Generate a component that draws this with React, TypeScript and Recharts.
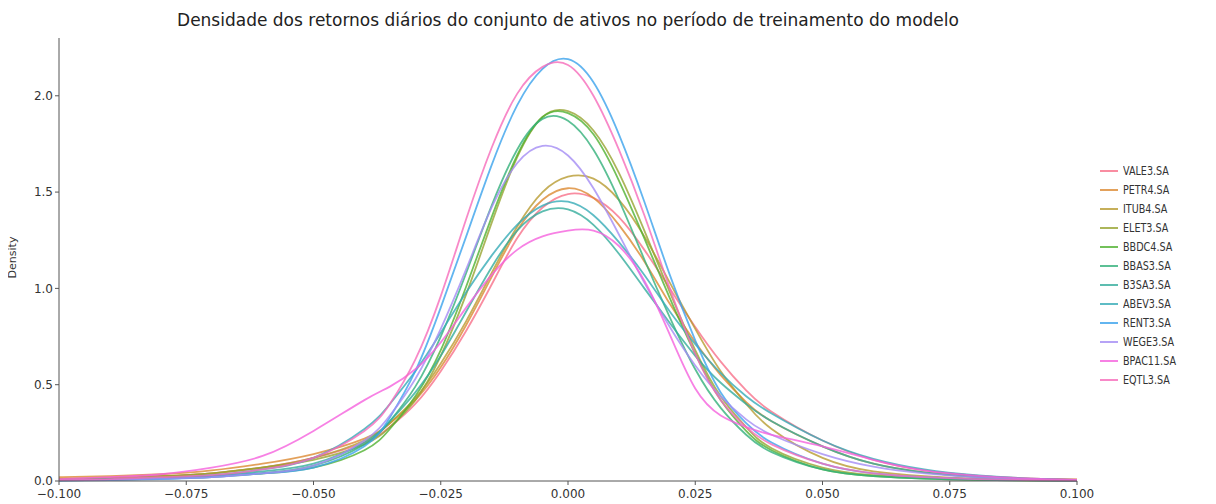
import React from 'react'
import { LineChart, Line, XAxis, YAxis } from 'recharts'

const RETURNS = [-0.1, -0.09, -0.08, -0.07, -0.06, -0.05, -0.04, -0.035, -0.03, -0.025, -0.02, -0.015, -0.01, -0.005, 0, 0.005, 0.01, 0.015, 0.02, 0.025, 0.03, 0.035, 0.04, 0.05, 0.06, 0.07, 0.08, 0.09, 0.1]

const VALE3 = [0.01, 0.015, 0.025, 0.04, 0.07, 0.12, 0.2, 0.28, 0.4, 0.57, 0.78, 1.02, 1.26, 1.42, 1.49, 1.47, 1.37, 1.2, 1.0, 0.8, 0.62, 0.47, 0.36, 0.21, 0.11, 0.055, 0.028, 0.014, 0.007]
const PETR4 = [0.02, 0.025, 0.035, 0.055, 0.09, 0.14, 0.22, 0.3, 0.42, 0.59, 0.81, 1.06, 1.3, 1.46, 1.52, 1.47, 1.33, 1.14, 0.92, 0.72, 0.55, 0.41, 0.31, 0.18, 0.09, 0.045, 0.022, 0.012, 0.008]
const ITUB4 = [0.01, 0.015, 0.025, 0.04, 0.07, 0.12, 0.21, 0.3, 0.43, 0.61, 0.83, 1.08, 1.32, 1.5, 1.58, 1.57, 1.46, 1.27, 1.03, 0.79, 0.57, 0.4, 0.27, 0.12, 0.05, 0.025, 0.012, 0.006, 0.003]
const ELET3 = [0.01, 0.015, 0.025, 0.04, 0.07, 0.11, 0.19, 0.28, 0.42, 0.65, 0.97, 1.34, 1.68, 1.89, 1.92, 1.82, 1.6, 1.3, 0.98, 0.68, 0.44, 0.28, 0.17, 0.07, 0.03, 0.015, 0.008, 0.004, 0.002]
const BBDC4 = [0.005, 0.008, 0.015, 0.025, 0.04, 0.07, 0.16, 0.27, 0.44, 0.68, 1.01, 1.37, 1.69, 1.89, 1.91, 1.8, 1.56, 1.26, 0.95, 0.66, 0.42, 0.26, 0.16, 0.06, 0.025, 0.012, 0.006, 0.003, 0.001]
const BBAS3 = [0.003, 0.006, 0.012, 0.02, 0.04, 0.08, 0.19, 0.31, 0.49, 0.75, 1.08, 1.43, 1.72, 1.88, 1.87, 1.72, 1.46, 1.15, 0.85, 0.58, 0.38, 0.24, 0.15, 0.06, 0.025, 0.012, 0.006, 0.003, 0.001]
const B3SA3 = [0.004, 0.008, 0.015, 0.025, 0.05, 0.09, 0.2, 0.31, 0.46, 0.65, 0.88, 1.11, 1.3, 1.4, 1.41, 1.33, 1.18, 1.0, 0.82, 0.65, 0.51, 0.4, 0.31, 0.18, 0.09, 0.045, 0.022, 0.011, 0.005]
const ABEV3 = [0.004, 0.008, 0.015, 0.03, 0.06, 0.12, 0.27, 0.4, 0.57, 0.77, 0.98, 1.17, 1.33, 1.43, 1.45, 1.38, 1.24, 1.07, 0.88, 0.71, 0.56, 0.44, 0.35, 0.21, 0.115, 0.06, 0.03, 0.014, 0.006]
const RENT3 = [0.002, 0.005, 0.01, 0.02, 0.04, 0.07, 0.18, 0.33, 0.57, 0.9, 1.27, 1.64, 1.95, 2.14, 2.19, 2.07, 1.8, 1.45, 1.07, 0.73, 0.46, 0.3, 0.2, 0.09, 0.04, 0.02, 0.01, 0.005, 0.002]
const WEGE3 = [0.003, 0.006, 0.012, 0.02, 0.04, 0.08, 0.21, 0.34, 0.53, 0.79, 1.1, 1.42, 1.65, 1.74, 1.69, 1.52, 1.28, 1.03, 0.8, 0.6, 0.44, 0.32, 0.24, 0.14, 0.075, 0.04, 0.02, 0.009, 0.004]
const BPAC11 = [0.01, 0.02, 0.035, 0.07, 0.13, 0.26, 0.42, 0.49, 0.58, 0.72, 0.9, 1.07, 1.2, 1.27, 1.3, 1.3, 1.22, 1.04, 0.76, 0.48, 0.34, 0.28, 0.24, 0.18, 0.11, 0.055, 0.028, 0.013, 0.006]
const EQTL3 = [0.005, 0.01, 0.02, 0.03, 0.06, 0.12, 0.26, 0.4, 0.63, 0.96, 1.36, 1.73, 2.01, 2.15, 2.16, 2.0, 1.72, 1.38, 1.0, 0.66, 0.42, 0.28, 0.19, 0.09, 0.04, 0.02, 0.01, 0.005, 0.002]

const X_TICKS = [-0.1, -0.075, -0.05, -0.025, 0, 0.025, 0.05, 0.075, 0.1]
const Y_TICKS = [0, 0.5, 1, 1.5, 2]

const SERIES = [
  { name: 'VALE3.SA', values: VALE3, color: '#f77189' },
  { name: 'PETR4.SA', values: PETR4, color: '#dc8932' },
  { name: 'ITUB4.SA', values: ITUB4, color: '#b89b31' },
  { name: 'ELET3.SA', values: ELET3, color: '#97a431' },
  { name: 'BBDC4.SA', values: BBDC4, color: '#50b131' },
  { name: 'BBAS3.SA', values: BBAS3, color: '#33b07a' },
  { name: 'B3SA3.SA', values: B3SA3, color: '#35ac9c' },
  { name: 'ABEV3.SA', values: ABEV3, color: '#36abb6' },
  { name: 'RENT3.SA', values: RENT3, color: '#3ba3ec' },
  { name: 'WEGE3.SA', values: WEGE3, color: '#a48cf4' },
  { name: 'BPAC11.SA', values: BPAC11, color: '#f561dd' },
  { name: 'EQTL3.SA', values: EQTL3, color: '#f66bba' },
]

const rows = RETURNS.map((x, i) => {
  const row: any = { x }
  SERIES.forEach(s => { row[s.name] = s.values[i] })
  return row
})

const fmtX = (v: number) => (v < 0 ? '\u2212' : '') + Math.abs(v).toFixed(3)
const fmtY = (v: number) => v.toFixed(1)

const tickStyle = { fill: '#333', fontSize: 12, fontFamily: 'DejaVu Sans' }

export default function App() {
  return (
    <div style={{ position: 'relative', width: 1200, height: 496, fontFamily: 'DejaVu Sans' }}>
      <div style={{ position: 'absolute', left: 51, width: 1018, top: 2, textAlign: 'center', fontSize: 17, color: '#222' }}>
        Densidade dos retornos diários do conjunto de ativos no período de treinamento do modelo
      </div>
      <div style={{ position: 'absolute', left: -26, top: 243, width: 60, textAlign: 'center', fontSize: 11, color: '#333', transform: 'rotate(-90deg)' }}>
        Density
      </div>
      <LineChart width={1200} height={496} data={rows} margin={{ top: 30, right: 131, left: 0, bottom: 0 }}>
        <XAxis
          dataKey="x"
          type="number"
          domain={[-0.1, 0.1]}
          ticks={X_TICKS}
          tickFormatter={fmtX}
          stroke="#555"
          tickSize={4}
          height={23}
          tick={{ ...tickStyle, dy: 2 }}
          allowDataOverflow
        />
        <YAxis
          type="number"
          domain={[0, 2.3]}
          ticks={Y_TICKS}
          tickFormatter={fmtY}
          stroke="#555"
          tickSize={4}
          width={51}
          tick={tickStyle}
        />
        {SERIES.map(s => (
          <Line
            key={s.name}
            dataKey={s.name}
            type="natural"
            stroke={s.color}
            strokeWidth={1.8}
            strokeOpacity={0.8}
            dot={false}
            isAnimationActive={false}
          />
        ))}
      </LineChart>
      <div style={{ position: 'absolute', left: 1092, top: 153, fontSize: 12, color: '#333' }}>
        {SERIES.map(s => (
          <div key={s.name} style={{ display: 'flex', alignItems: 'center', height: 19 }}>
            <div style={{ width: 18, height: 2, background: s.color, opacity: 0.8, marginRight: 5 }} />
            <span style={{ display: 'inline-block', transform: 'scaleX(0.8)', transformOrigin: 'left center', whiteSpace: 'nowrap' }}>{s.name}</span>
          </div>
        ))}
      </div>
    </div>
  )
}
